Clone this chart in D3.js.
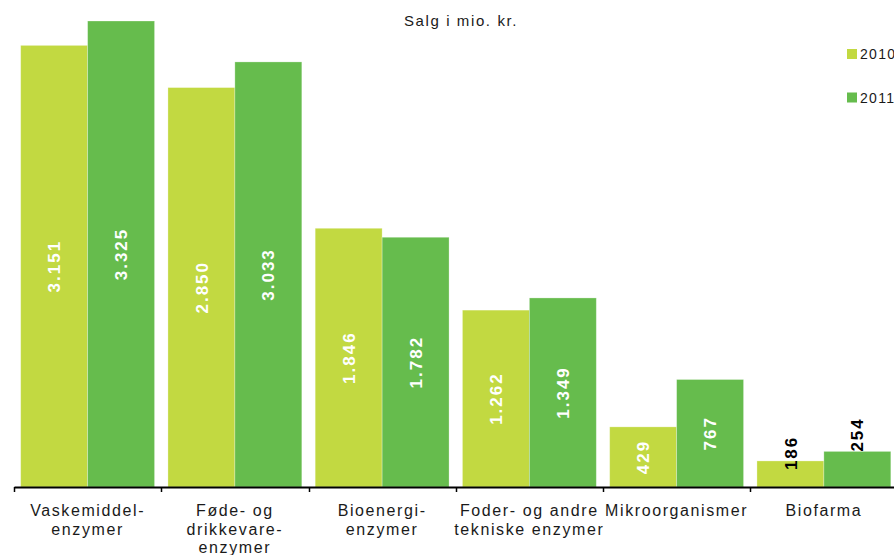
<!DOCTYPE html>
<html>
<head>
<meta charset="utf-8">
<script src="https://cdn.jsdelivr.net/npm/d3@7"></script>
<style>
  body { margin: 0; background: #fff; }
  svg { display: block; font-family: "Liberation Sans", Arial, sans-serif; }
</style>
</head>
<body>
<div id="chart-area"></div>
<script>
const width = 894;
const height = 555;

// data
const categories = ["Vaskemiddel-enzymer", "Føde- og drikkevare-enzymer", "Bioenergi-enzymer",
                    "Foder- og andre tekniske enzymer", "Mikroorganismer", "Biofarma"];
const categoryLines = [["Vaskemiddel-", "enzymer"], ["Føde- og", "drikkevare-", "enzymer"],
                       ["Bioenergi-", "enzymer"], ["Foder- og andre", "tekniske enzymer"],
                       ["Mikroorganismer"], ["Biofarma"]];
const years = ["2010", "2011"];
const sales2010 = [3151, 2850, 1846, 1262, 429, 186];
const sales2011 = [3325, 3033, 1782, 1349, 767, 254];
const colors = ["#c2d941", "#66bc4d"];

const rows = [];
categories.forEach((c, i) => {
    rows.push({cat: c, year: "2010", value: sales2010[i]});
    rows.push({cat: c, year: "2011", value: sales2011[i]});
});

const fmt = d3.formatLocale({decimal: ",", thousands: ".", grouping: [3]}).format(",d");

const svg = d3.select("#chart-area")
    .append("svg")
    .attr("width", width)
    .attr("height", height);

const baseY = 487;

// scales
const xScale = d3.scaleBand()
    .domain(categories)
    .range([14, 897.5])
    .padding(0);

const xInner = d3.scaleBand()
    .domain(years)
    .range([0, xScale.bandwidth()])
    .paddingInner(0)
    .paddingOuter(0.1);

const yScale = d3.scaleLinear()
    .domain([0, d3.max(rows, d => d.value)])
    .range([baseY, 21]);

const color = d3.scaleOrdinal().domain(years).range(colors);

// title
svg.append("text")
    .attr("x", 461)
    .attr("y", 26)
    .attr("text-anchor", "middle")
    .attr("font-size", 15)
    .attr("letter-spacing", 1.6)
    .attr("fill", "#1a1a1a")
    .text("Salg i mio. kr.");

// bars
svg.selectAll("rect.bar")
    .data(rows)
    .enter()
    .append("rect")
    .attr("class", "bar")
    .attr("x", d => xScale(d.cat) + xInner(d.year))
    .attr("width", xInner.bandwidth())
    .attr("y", d => yScale(d.value))
    .attr("height", d => baseY - yScale(d.value))
    .attr("fill", d => color(d.year))
    .attr("stroke", "#ffffff")
    .attr("stroke-opacity", 0.35)
    .attr("stroke-width", 0.8);

// value labels (rotated)
svg.selectAll("text.val")
    .data(rows)
    .enter()
    .append("text")
    .attr("class", "val")
    .attr("transform", d => {
        const cx = xScale(d.cat) + xInner(d.year) + xInner.bandwidth() / 2;
        const top = yScale(d.value);
        const h = baseY - top;
        let cy = top + h / 2;
        if (h < 45) cy = d.year === "2010" ? top - 8 : top - 17;
        return `translate(${cx},${cy}) rotate(-90)`;
    })
    .attr("text-anchor", "middle")
    .attr("dy", "0.36em")
    .attr("font-size", 17)
    .attr("font-weight", "bold")
    .attr("letter-spacing", 2)
    .attr("fill", d => (baseY - yScale(d.value)) < 45 ? "#000" : "#fff")
    .text(d => fmt(d.value));

// x axis
const xAxis = d3.axisBottom(xScale).tickSize(0).tickFormat("");
const xAxisGroup = svg.append("g")
    .attr("transform", `translate(0,${baseY})`)
    .call(xAxis);
xAxisGroup.select(".domain")
    .attr("stroke", "#000")
    .attr("stroke-width", 2);

// boundary ticks
const bounds = categories.map(c => xScale(c)).concat([xScale.range()[1]]);
xAxisGroup.selectAll("line.bound")
    .data(bounds)
    .enter()
    .append("line")
    .attr("class", "bound")
    .attr("x1", d => Math.round(d) + 0.5)
    .attr("x2", d => Math.round(d) + 0.5)
    .attr("y1", 0)
    .attr("y2", 5)
    .attr("stroke", "#000")
    .attr("stroke-width", 1.5);

// category labels
const labels = xAxisGroup.selectAll("text.cat")
    .data(categories)
    .enter()
    .append("text")
    .attr("class", "cat")
    .attr("x", d => xScale(d) + xScale.bandwidth() / 2)
    .attr("y", 29)
    .attr("text-anchor", "middle")
    .attr("font-size", 16)
    .attr("letter-spacing", 1.6)
    .attr("fill", "#1a1a1a");

labels.selectAll("tspan")
    .data((d, i) => categoryLines[i])
    .enter()
    .append("tspan")
    .attr("x", function() { return this.parentNode.getAttribute("x"); })
    .attr("dy", (d, i) => i === 0 ? 0 : 18.5)
    .text(d => d);

// legend
const legend = svg.append("g")
    .attr("transform", "translate(847,49)");

const legendItems = legend.selectAll("g")
    .data(years)
    .enter()
    .append("g")
    .attr("transform", (d, i) => `translate(0,${i * 43.5})`);

legendItems.append("rect")
    .attr("width", 10)
    .attr("height", 10)
    .attr("fill", d => color(d));

legendItems.append("text")
    .attr("x", 13)
    .attr("y", 10)
    .attr("font-size", 14)
    .attr("letter-spacing", 1.3)
    .attr("fill", "#1a1a1a")
    .text(d => d);
</script>
</body>
</html>
